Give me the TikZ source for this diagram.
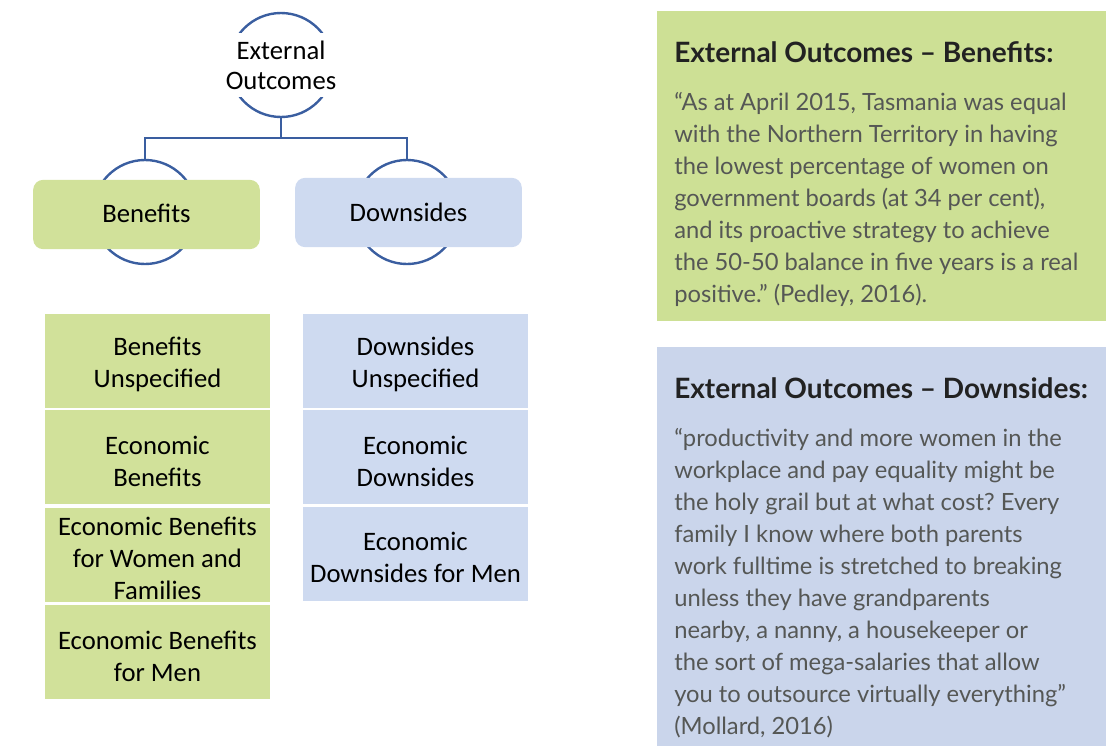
\documentclass[tikz,border=0pt]{standalone}
\usepackage{fontspec}
\setmainfont{Carlito}
\newfontfamily\quotefont{Lato}
\usetikzlibrary{positioning}
\frenchspacing

\definecolor{linkblue}{RGB}{58,94,160}
\definecolor{bengreen}{RGB}{209,225,154}
\definecolor{downblue}{RGB}{206,218,240}
\definecolor{panelgreen}{RGB}{205,224,149}
\definecolor{panelblue}{RGB}{202,213,235}
\definecolor{headblack}{RGB}{34,34,34}
\definecolor{quotegray}{RGB}{85,87,85}

\newcommand{\leafstrut}{\rule{0pt}{20pt}}

\begin{document}
\begin{tikzpicture}[x=0.75pt,y=-0.75pt,
    ring/.style={circle,draw=linkblue,line width=1.8pt,minimum size=78pt,inner sep=0pt},
    link/.style={draw=linkblue,line width=1.8pt},
    toptext/.style={fill=white,minimum width=84pt,minimum height=48pt,inner sep=0pt,align=center,font=\fontsize{20}{22.5}\selectfont},
    levelbox/.style={rounded corners=7.5pt,minimum width=170pt,minimum height=52pt,inner sep=0pt,font=\fontsize{20}{22}\selectfont},
    leafbox/.style={minimum width=169pt,minimum height=70.5pt,inner sep=0pt,align=center,font=\fontsize{20}{24}\selectfont},
    panel/.style={anchor=north west,inner sep=0pt,minimum width=337pt},
    headtext/.style={anchor=base west,inner sep=0pt,text=headblack,font=\quotefont\bfseries\fontsize{21}{26}\selectfont},
    quotetext/.style={anchor=north west,inner sep=0pt,align=left,text=quotegray,font=\quotefont\fontsize{17.8}{24}\selectfont}]
    \useasboundingbox (0,0) rectangle (1106,746);

    % tree
    \node[ring] (cTop) at (281,65) {};
    \node[ring] (cBen) at (145,212) {};
    \node[ring] (cDown) at (407,212) {};
    \node[toptext] (top) at (281,65) {External\\Outcomes};
    \node[levelbox,fill=bengreen] (ben) at (146.5,214.5) {\raisebox{1.5pt}{Benefits}};
    \node[levelbox,fill=downblue] (down) at (408.5,212.5) {Downsides};
    \coordinate (split) at (281,138);
    \draw[link] (cTop.south) -- (split);
    \draw[link] (cBen.north) |- (split) -| (cDown.north);

    % categories
    \node[leafbox,fill=bengreen] (b1) at (157.5,360.5) {\leafstrut Benefits\\Unspecified};
    \node[leafbox,fill=bengreen] (b2) at (157.5,457) {\leafstrut Economic\\Benefits};
    \node[leafbox,fill=bengreen] (b3) at (157.5,554.5) {\leafstrut Economic Benefits\\for Women and\\Families};
    \node[leafbox,fill=bengreen] (b4) at (157.5,652) {\leafstrut Economic Benefits\\for Men};
    \node[leafbox,fill=downblue] (d1) at (415.5,360.5) {\leafstrut Downsides\\Unspecified};
    \node[leafbox,fill=downblue] (d2) at (415.5,457) {\leafstrut Economic\\Downsides};
    \node[leafbox,fill=downblue] (d3) at (415.5,553.5) {\leafstrut Economic\\Downsides for Men};

    % quotes
    \node[panel,fill=panelgreen,minimum height=232.5pt] (pBen) at (657,11) {};
    \node[headtext] (hBen) at (674,62) {External Outcomes – Benefits:};
    \node[quotetext] (qBen) at (674,92) {“As at April 2015, Tasmania was equal\\
        with the Northern Territory in having\\
        the lowest percentage of women on\\
        government boards (at 34 per cent),\\
        and its proactive strategy to achieve\\
        the 50-50 balance in five years is a real\\
        positive.” (Pedley, 2016).};
    \node[panel,fill=panelblue,minimum height=299.25pt] (pDown) at (657,347) {};
    \node[headtext] (hDown) at (674,398) {External Outcomes – Downsides:};
    \node[quotetext] (qDown) at (674,428) {“productivity and more women in the\\
        workplace and pay equality might be\\
        the holy grail but at what cost? Every\\
        family I know where both parents\\
        work fulltime is stretched to breaking\\
        unless they have grandparents\\
        nearby, a nanny, a housekeeper or\\
        the sort of mega-salaries that allow\\
        you to outsource virtually everything”\\
        (Mollard, 2016)};
\end{tikzpicture}
\end{document}
